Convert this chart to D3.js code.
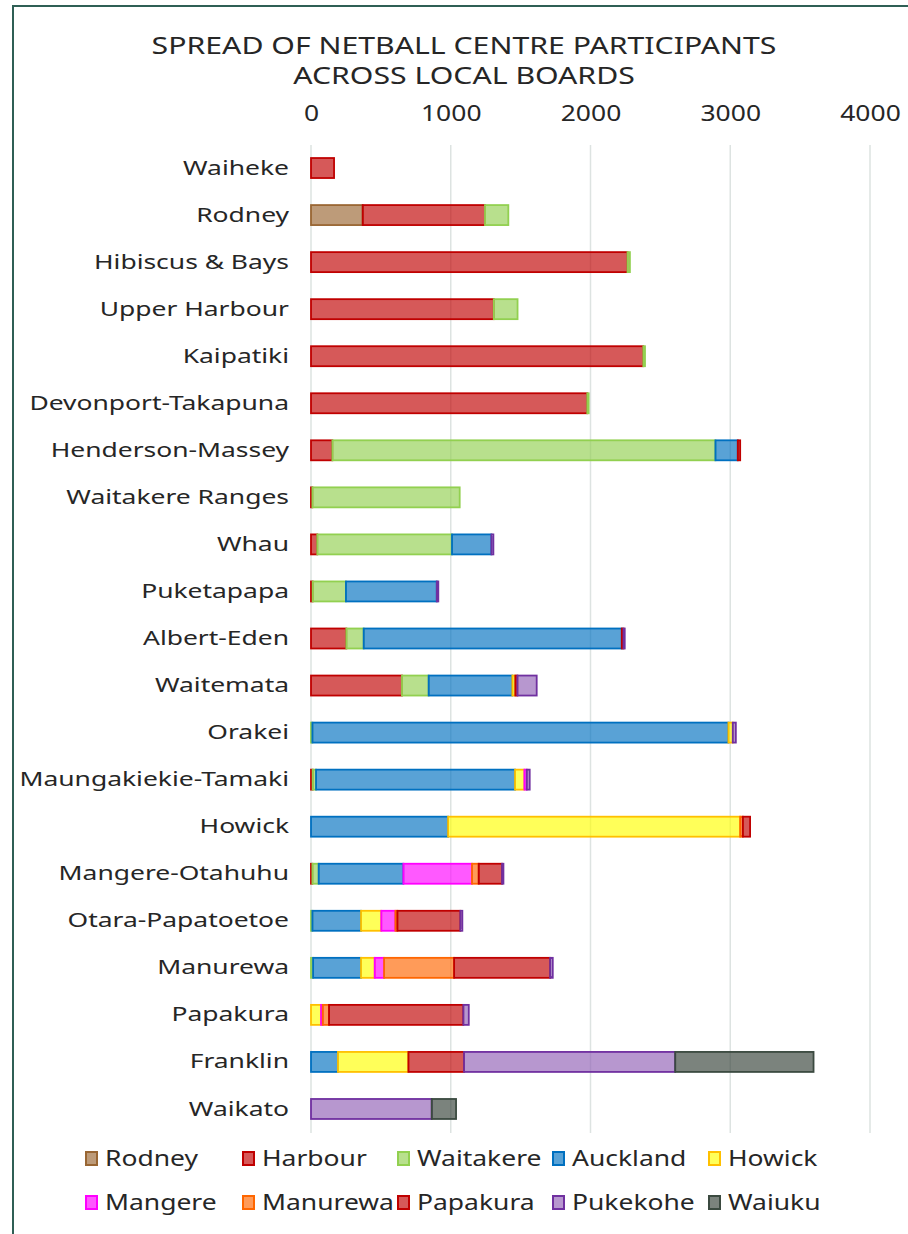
<!DOCTYPE html>
<html>
<head>
<meta charset="utf-8">
<script src="https://cdn.jsdelivr.net/npm/d3@7"></script>
<style>
  body { margin: 0; background: #fff; }
  svg text { font-family: "Noto Sans", sans-serif; fill: #262626; }
</style>
</head>
<body>
<div id="chart"></div>
<script>
// ---- data
var boards = ["Waiheke", "Rodney", "Hibiscus & Bays", "Upper Harbour", "Kaipatiki",
  "Devonport-Takapuna", "Henderson-Massey", "Waitakere Ranges", "Whau", "Puketapapa",
  "Albert-Eden", "Waitemata", "Orakei", "Maungakiekie-Tamaki", "Howick",
  "Mangere-Otahuhu", "Otara-Papatoetoe", "Manurewa", "Papakura", "Franklin", "Waikato"];

var centres = ["Rodney", "Harbour", "Waitakere", "Auckland", "Howick",
  "Mangere", "Manurewa", "Papakura", "Pukekohe", "Waiuku"];

var rodney    = [0, 370, 0, 0, 0, 0, 0, 0, 0, 0, 0, 0, 0, 0, 0, 0, 0, 0, 0, 0, 0];
var harbour   = [165, 875, 2265, 1308, 2378, 1977, 153, 10, 45, 12, 253, 651, 0, 12, 0, 10, 0, 0, 0, 0, 0];
var waitakere = [0, 167, 17, 170, 12, 10, 2741, 1054, 964, 238, 124, 191, 10, 24, 0, 45, 10, 15, 0, 0, 0];
var auckland  = [0, 0, 0, 0, 0, 0, 160, 0, 282, 650, 1847, 599, 2977, 1424, 981, 606, 348, 343, 0, 193, 0];
var howick    = [0, 0, 0, 0, 0, 0, 0, 0, 0, 0, 0, 21, 31, 67, 2090, 0, 145, 98, 72, 504, 0];
var mangere   = [0, 0, 0, 0, 0, 0, 0, 0, 0, 0, 0, 0, 0, 17, 0, 491, 101, 67, 12, 0, 0];
var manurewa  = [0, 0, 0, 0, 0, 0, 0, 0, 0, 0, 0, 0, 0, 0, 19, 48, 14, 501, 45, 0, 0];
var papakura  = [0, 0, 0, 0, 0, 0, 17, 0, 0, 0, 12, 15, 0, 0, 52, 167, 451, 687, 961, 398, 0];
var pukekohe  = [0, 0, 0, 0, 0, 0, 0, 0, 14, 11, 9, 138, 22, 21, 0, 10, 14, 19, 39, 1511, 864];
var waiuku    = [0, 0, 0, 0, 0, 0, 0, 0, 0, 0, 0, 0, 0, 0, 0, 0, 0, 0, 0, 990, 174];

var xTicks = [0, 1000, 2000, 3000, 4000];

var series = [rodney, harbour, waitakere, auckland, howick, mangere, manurewa, papakura, pukekohe, waiuku];

var fills   = ["#996531", "#c00000", "#92d050", "#0070c0", "#ffff00", "#ff00ff", "#ff6600", "#c00000", "#905fb5", "#344038"];
var strokes = ["#996633", "#c00000", "#92d050", "#0070c0", "#ffc000", "#ff00ff", "#ff6600", "#c00000", "#7030a0", "#3b4a40"];

// the original face is much wider than Noto Sans, so text gets stretched
var stretch = "scale(1.26,1)";

// one row per board for d3.stack
var rows = boards.map(function (b, i) {
  var r = { board: b };
  centres.forEach(function (c, j) { r[c] = series[j][i]; });
  return r;
});

var width = 908, height = 1234;

var svg = d3.select("#chart").append("svg")
  .attr("width", width)
  .attr("height", height);

// frame
svg.append("path")
  .attr("d", "M13,1234 V6 H908")
  .attr("fill", "none")
  .attr("stroke", "#2f5f55")
  .attr("stroke-width", 2);

// title
var title = svg.append("g").attr("transform", "translate(464,0) " + stretch);
title.append("text")
  .attr("y", 54)
  .attr("text-anchor", "middle")
  .style("font-size", "24px")
  .text("SPREAD OF NETBALL CENTRE PARTICIPANTS");
title.append("text")
  .attr("y", 84)
  .attr("text-anchor", "middle")
  .style("font-size", "24px")
  .text("ACROSS LOCAL BOARDS");

var x = d3.scaleLinear().domain([0, 4000]).range([311, 870]);
var y = d3.scaleBand().domain(boards).range([144.5, 1132.5])
  .paddingInner(0.575).paddingOuter(0.2875);

// gridlines
svg.append("g")
  .selectAll("line")
  .data(xTicks)
  .enter().append("line")
    .attr("x1", d => x(d)).attr("x2", d => x(d))
    .attr("y1", 145).attr("y2", 1133)
    .attr("stroke", "#dde3e1")
    .attr("stroke-width", 1.5);

// top axis labels
var xAxis = svg.append("g")
  .attr("transform", "translate(0,121)")
  .call(d3.axisTop(x).tickValues(xTicks).tickSize(0).tickPadding(0).tickFormat(d3.format("d")));
xAxis.select(".domain").remove();
xAxis.selectAll("text")
  .style("font-size", "21px")
  .attr("fill", "#262626")
  .attr("transform", stretch);

// board labels
var yAxis = svg.append("g")
  .attr("transform", "translate(289,0)")
  .call(d3.axisLeft(y).tickSize(0).tickPadding(0));
yAxis.select(".domain").remove();
yAxis.selectAll("text")
  .style("font-size", "20.5px")
  .attr("fill", "#262626")
  .attr("transform", "scale(1.29,1)");

// stacked bars
var stacked = d3.stack().keys(centres)(rows);

svg.append("g")
  .selectAll("g")
  .data(stacked)
  .enter().append("g")
    .attr("fill", (d, i) => fills[i])
    .attr("fill-opacity", 0.65)
    .attr("stroke", (d, i) => strokes[i])
    .attr("stroke-width", 1.8)
  .selectAll("rect")
  .data(d => d.filter(p => p[1] - p[0] > 0))
  .enter().append("rect")
    .attr("x", d => x(d[0]))
    .attr("y", d => y(d.data.board))
    .attr("width", d => x(d[1]) - x(d[0]))
    .attr("height", y.bandwidth());

// legend
var legendX = [85, 242, 397, 552, 708];
var legend = svg.append("g")
  .selectAll("g")
  .data(centres)
  .enter().append("g")
    .attr("transform", (d, i) => "translate(" + legendX[i % 5] + "," + (1151 + Math.floor(i / 5) * 44) + ")");

legend.append("rect")
  .attr("x", 1).attr("y", 1)
  .attr("width", 11).attr("height", 13)
  .attr("fill", (d, i) => fills[i])
  .attr("fill-opacity", 0.65)
  .attr("stroke", (d, i) => strokes[i])
  .attr("stroke-width", 2);

legend.append("text")
  .attr("transform", "translate(20,7.5) " + stretch)
  .attr("dy", "0.35em")
  .style("font-size", "21px")
  .text(d => d);
</script>
</body>
</html>
